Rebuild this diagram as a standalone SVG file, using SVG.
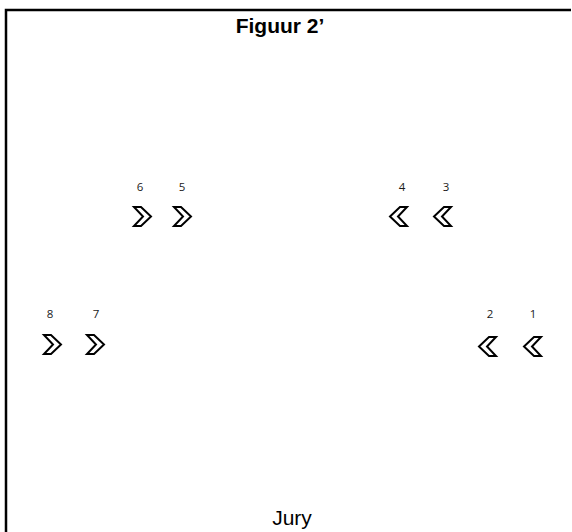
<svg xmlns="http://www.w3.org/2000/svg" width="572" height="532" viewBox="0 0 572 532">
<style>
.frame{stroke:#000;stroke-width:2.5;fill:none}
.title{font-family:"Liberation Sans",Arial,sans-serif;font-weight:bold;font-size:21px;fill:#000}
.jury{font-family:"Liberation Sans",Arial,sans-serif;font-size:21px;fill:#000}
.num{font-family:"Open Sans","DejaVu Sans",sans-serif;font-size:11.5px;fill:#1a1a1a}
.chev{fill:none;stroke:#000;stroke-width:2;stroke-linejoin:miter}
</style>
<defs>
<polygon id="right" class="chev" points="1,1 8,1 18,10.5 8,20 1,20 10,10.5"/>
<polygon id="left" class="chev" points="18,1 11,1 1,10.5 11,20 18,20 9,10.5"/>
</defs>
<rect width="572" height="532" fill="#fff"/>
<path class="frame" d="M6,532 V10 H571"/>
<text class="title" x="280" y="33" text-anchor="middle">Figuur 2’</text>
<text class="jury" x="292" y="525" text-anchor="middle">Jury</text>
<g id="n6"><text class="num" x="140" y="191" text-anchor="middle">6</text><use href="#right" x="133" y="206"/></g>
<g id="n5"><text class="num" x="182" y="191" text-anchor="middle">5</text><use href="#right" x="173" y="206"/></g>
<g id="n4"><text class="num" x="402" y="191" text-anchor="middle">4</text><use href="#left" x="389" y="206"/></g>
<g id="n3"><text class="num" x="446" y="191" text-anchor="middle">3</text><use href="#left" x="433" y="206"/></g>
<g id="n8"><text class="num" x="50" y="318" text-anchor="middle">8</text><use href="#right" x="43" y="334"/></g>
<g id="n7"><text class="num" x="96" y="318" text-anchor="middle">7</text><use href="#right" x="86" y="334"/></g>
<g id="n2"><text class="num" x="490" y="318" text-anchor="middle">2</text><use href="#left" x="478" y="336"/></g>
<g id="n1"><text class="num" x="533" y="318" text-anchor="middle">1</text><use href="#left" x="523" y="336"/></g>
<g id="connectors"/>
</svg>
